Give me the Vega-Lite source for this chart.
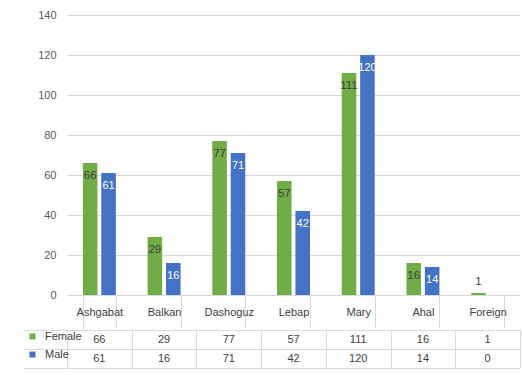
{
  "$schema": "https://vega.github.io/schema/vega-lite/v6.json",
  "padding": {"left": 22, "top": 9, "right": 2, "bottom": 8},
  "background": "white",
  "spacing": 0,
  "config": {"font": "Liberation Sans", "view": {"stroke": null}},
  "data": {"values": [
    {"region": "Ashgabat", "sex": "Female", "value": 66},
    {"region": "Ashgabat", "sex": "Male", "value": 61},
    {"region": "Balkan", "sex": "Female", "value": 29},
    {"region": "Balkan", "sex": "Male", "value": 16},
    {"region": "Dashoguz", "sex": "Female", "value": 77},
    {"region": "Dashoguz", "sex": "Male", "value": 71},
    {"region": "Lebap", "sex": "Female", "value": 57},
    {"region": "Lebap", "sex": "Male", "value": 42},
    {"region": "Mary", "sex": "Female", "value": 111},
    {"region": "Mary", "sex": "Male", "value": 120},
    {"region": "Ahal", "sex": "Female", "value": 16},
    {"region": "Ahal", "sex": "Male", "value": 14},
    {"region": "Foreign", "sex": "Female", "value": 1},
    {"region": "Foreign", "sex": "Male", "value": 0}
  ]},
  "vconcat": [
    {
      "width": 453,
      "height": 280,
      "encoding": {
        "x": {"field": "region", "type": "nominal",
          "scale": {"type": "band", "domain": ["Ashgabat", "Balkan", "Dashoguz", "Lebap", "Mary", "Ahal", "Foreign"], "paddingInner": 0.49, "paddingOuter": 0.245},
          "axis": {"title": null, "tickBand": "extent", "tickSize": 33, "tickColor": "#d9d9d9", "domainColor": "#d9d9d9", "labelPadding": -22, "labelAngle": 0, "labelColor": "#404040", "labelFontSize": 11, "grid": false}},
        "xOffset": {"field": "sex", "type": "nominal", "scale": {"type": "band", "domain": ["Female", "Male"], "paddingInner": 0.21, "paddingOuter": 0}},
        "y": {"field": "value", "type": "quantitative", "scale": {"domain": [0, 140]},
          "axis": {"title": null, "values": [0, 20, 40, 60, 80, 100, 120, 140], "domain": false, "ticks": false, "gridColor": "#d9d9d9", "labelColor": "#595959", "labelFontSize": 11, "labelPadding": 11}}
      },
      "layer": [
        {
          "mark": {"type": "bar"},
          "encoding": {
            "color": {"field": "sex", "type": "nominal",
              "scale": {"domain": ["Female", "Male"], "range": ["#70ad47", "#4472c4"]},
              "legend": {"title": null, "orient": "none", "legendX": -40, "legendY": 316, "symbolType": "square", "symbolSize": 36, "labelFontSize": 11, "labelColor": "#404040", "rowPadding": 6, "labelOffset": 7, "padding": 0, "symbolStrokeWidth": 0}}
          }
        },
        {
          "transform": [{"filter": "datum.sex == 'Female' && datum.value >= 10"}],
          "mark": {"type": "text", "baseline": "middle", "dy": 13, "fontSize": 11.5, "color": "#404040"},
          "encoding": {"text": {"field": "value", "type": "quantitative"}}
        },
        {
          "transform": [{"filter": "datum.sex == 'Male' && datum.value >= 10"}],
          "mark": {"type": "text", "baseline": "middle", "dy": 13, "fontSize": 11, "color": "white"},
          "encoding": {"text": {"field": "value", "type": "quantitative"}}
        },
        {
          "transform": [{"filter": "datum.value > 0 && datum.value < 10"}],
          "mark": {"type": "text", "baseline": "middle", "dy": -11, "fontSize": 11.5, "color": "#404040"},
          "encoding": {"text": {"field": "value", "type": "quantitative"}}
        }
      ]
    },
    {
      "width": 453,
      "height": 38,
      "mark": {"type": "text", "fontSize": 11, "color": "#404040"},
      "encoding": {
        "x": {"field": "region", "type": "nominal",
          "scale": {"type": "band", "domain": ["Ashgabat", "Balkan", "Dashoguz", "Lebap", "Mary", "Ahal", "Foreign"], "paddingInner": 0, "paddingOuter": 0},
          "axis": {"title": null, "labels": false, "ticks": false, "domain": false, "grid": true, "tickBand": "extent", "gridColor": "#d9d9d9"}},
        "y": {"field": "sex", "type": "nominal",
          "scale": {"type": "band", "domain": ["Female", "Male"], "paddingInner": 0, "paddingOuter": 0},
          "axis": {"title": null, "labels": false, "ticks": true, "tickSize": 44, "tickBand": "extent", "tickColor": "#d9d9d9", "domainColor": "#d9d9d9", "grid": true, "gridColor": "#d9d9d9"}},
        "text": {"field": "value", "type": "quantitative"}
      }
    }
  ]
}
